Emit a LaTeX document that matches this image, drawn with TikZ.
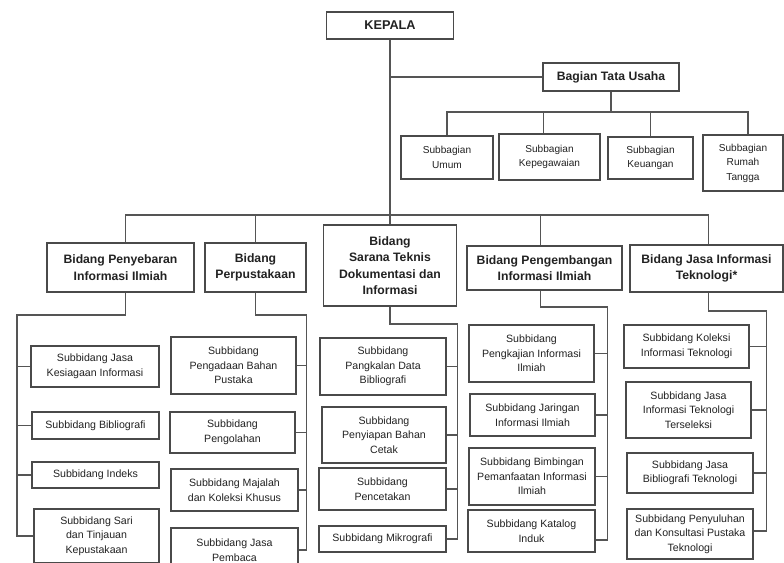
\documentclass[tikz,border=0pt]{standalone}
\usepackage{fontspec}
\setmainfont{Liberation Sans}
\begin{document}
\begin{tikzpicture}[x=1pt,y=-1pt,
  box/.style={draw=boxc, line width=1.1pt, inner sep=0pt, align=center, text=txtc},
  hd/.style={box, font=\fontsize{12.2}{16.5}\selectfont\bfseries},
  sb/.style={box, font=\fontsize{10.6}{14.5}\selectfont},
  sg/.style={box, font=\fontsize{10.1}{14.5}\selectfont},
  ln/.style={draw=linec, line width=1.1pt}]
\definecolor{boxc}{HTML}{4A4A4A}
\definecolor{linec}{HTML}{555555}
\definecolor{txtc}{HTML}{222222}
\useasboundingbox (0,0) rectangle (784,562);
\clip (0,0) rectangle (784,562);
\fill[white] (0,0) rectangle (784,562);

% top
\node[box, font=\fontsize{12.7}{16}\selectfont\bfseries, minimum width=127pt, minimum height=27pt] (kepala) at (390,25.5) {KEPALA};
\node[hd, minimum width=136pt, minimum height=28pt] (btu) at (611,77) {Bagian Tata Usaha};

\node[sg, minimum width=92pt, minimum height=43pt] (umum) at (447,157.5) {Subbagian\\Umum};
\node[sg, minimum width=101pt, minimum height=46pt] (kepeg) at (549.5,157) {Subbagian\\Kepegawaian};
\node[sg, minimum width=85pt, minimum height=42pt] (keuangan) at (650.5,158) {Subbagian\\Keuangan};
\node[sg, minimum width=80pt, minimum height=56pt] (rumah) at (743,163) {Subbagian\\Rumah\\Tangga};

% bidang
\node[hd, minimum width=147pt, minimum height=49pt] (penyebaran) at (120.5,267.5) {Bidang Penyebaran\\Informasi Ilmiah};
\node[hd, minimum width=101pt, minimum height=49pt] (perpus) at (255.5,267.5) {Bidang\\Perpustakaan};
\node[hd, minimum width=133pt, minimum height=81pt] (sarana) at (390,265.5) {Bidang\\Sarana Teknis\\Dokumentasi dan\\Informasi};
\node[hd, minimum width=155pt, minimum height=44pt] (pengemb) at (544.5,268) {Bidang Pengembangan\\Informasi Ilmiah};
\node[hd, minimum width=153pt, minimum height=47pt] (jasa) at (706.5,268.5) {Bidang Jasa Informasi\\Teknologi*};

% column 1
\node[sb, minimum width=128pt, minimum height=41pt] (kesiagaan) at (95,366.5) {Subbidang Jasa\\Kesiagaan Informasi};
\node[sb, minimum width=127pt, minimum height=27pt] (biblio) at (95.5,425.5) {Subbidang Bibliografi};
\node[sb, minimum width=127pt, minimum height=26pt] (indeks) at (95.5,475) {Subbidang Indeks};
\node[sb, minimum width=125pt, minimum height=54pt] (sari) at (96.5,536) {Subbidang Sari\\dan Tinjauan\\Kepustakaan};

% column 2
\node[sb, minimum width=125pt, minimum height=57pt] (pengadaan) at (233.5,365.5) {Subbidang\\Pengadaan Bahan\\Pustaka};
\node[sb, minimum width=125pt, minimum height=41pt] (pengolahan) at (232.5,432.5) {Subbidang\\Pengolahan};
\node[sb, minimum width=127pt, minimum height=42pt] (majalah) at (234.5,490) {Subbidang Majalah\\dan Koleksi Khusus};
\node[sb, minimum width=127pt, minimum height=44pt] (pembaca) at (234.5,550) {Subbidang Jasa\\Pembaca};

% column 3
\node[sb, minimum width=126pt, minimum height=57pt] (pangkalan) at (383,366.5) {Subbidang\\Pangkalan Data\\Bibliografi};
\node[sb, minimum width=124pt, minimum height=56pt] (penyiapan) at (384,435) {Subbidang\\Penyiapan Bahan\\Cetak};
\node[sb, minimum width=127pt, minimum height=42pt] (pencetakan) at (382.5,489) {Subbidang\\Pencetakan};
\node[sb, minimum width=127pt, minimum height=26pt] (mikro) at (382.5,539) {Subbidang Mikrografi};

% column 4
\node[sb, minimum width=125pt, minimum height=57pt] (pengkajian) at (531.5,353.5) {Subbidang\\Pengkajian Informasi\\Ilmiah};
\node[sb, minimum width=125pt, minimum height=42pt] (jaringan) at (532.5,415) {Subbidang Jaringan\\Informasi Ilmiah};
\node[sb, minimum width=126pt, minimum height=57pt] (bimbingan) at (532,476.5) {Subbidang Bimbingan\\Pemanfaatan Informasi\\Ilmiah};
\node[sb, minimum width=127pt, minimum height=42pt] (katalog) at (531.5,531) {Subbidang Katalog\\Induk};

% column 5
\node[sb, minimum width=125pt, minimum height=43pt] (koleksi) at (686.5,346.5) {Subbidang Koleksi\\Informasi Teknologi};
\node[sb, minimum width=125pt, minimum height=56pt] (terseleksi) at (688.5,410) {Subbidang Jasa\\Informasi Teknologi\\Terseleksi};
\node[sb, minimum width=126pt, minimum height=40pt] (jbt) at (690,473) {Subbidang Jasa\\Bibliografi Teknologi};
\node[sb, minimum width=126pt, minimum height=50pt] (penyuluhan) at (690,534) {Subbidang Penyuluhan\\dan Konsultasi Pustaka\\Teknologi};

% connectors top
\coordinate (bbus) at (390,215);
\coordinate (sbus) at (611,112);
\draw[ln] (kepala.south) -- (sarana.north);
\draw[ln] (kepala.south |- btu.west) -- (btu.west);
\draw[ln] (btu.south) -- (sbus);
\draw[ln] (umum.north) |- (sbus) -| ([xshift=5pt]rumah.north);
\draw[ln] ([xshift=-6pt]kepeg.north) -- ([xshift=-6pt]kepeg.north |- sbus);
\draw[ln] (keuangan.north) -- (keuangan.north |- sbus);

\draw[ln] ([xshift=5pt]penyebaran.north) |- (bbus) -| ([xshift=2pt]jasa.north);
\draw[ln] (perpus.north) -- (perpus.north |- bbus);
\draw[ln] ([xshift=-4pt]pengemb.north) -- ([xshift=-4pt]pengemb.north |- bbus);

% trunks
\coordinate (t1) at (17,315);
\draw[ln] ([xshift=5pt]penyebaran.south) |- (t1) |- (sari.west);
\foreach \n in {kesiagaan,biblio,indeks} \draw[ln] (t1 |- \n.west) -- (\n.west);

\coordinate (t2) at (306.7,315);
\draw[ln] (perpus.south) |- (t2) |- (pembaca.east);
\foreach \n in {pengadaan,pengolahan,majalah} \draw[ln] (t2 |- \n.east) -- (\n.east);

\coordinate (t3) at (457.7,324);
\draw[ln] (sarana.south) |- (t3) |- (mikro.east);
\foreach \n in {pangkalan,penyiapan,pencetakan} \draw[ln] (t3 |- \n.east) -- (\n.east);

\coordinate (t4) at (607.7,307);
\draw[ln] ([xshift=-4pt]pengemb.south) |- (t4) |- ([yshift=-9pt]katalog.east);
\foreach \n in {pengkajian,jaringan,bimbingan} \draw[ln] (t4 |- \n.east) -- (\n.east);

\coordinate (t5) at (766.7,311);
\draw[ln] ([xshift=2pt]jasa.south) |- (t5) |- ([yshift=3pt]penyuluhan.east);
\foreach \n in {koleksi,terseleksi,jbt} \draw[ln] (t5 |- \n.east) -- (\n.east);
\end{tikzpicture}
\end{document}
